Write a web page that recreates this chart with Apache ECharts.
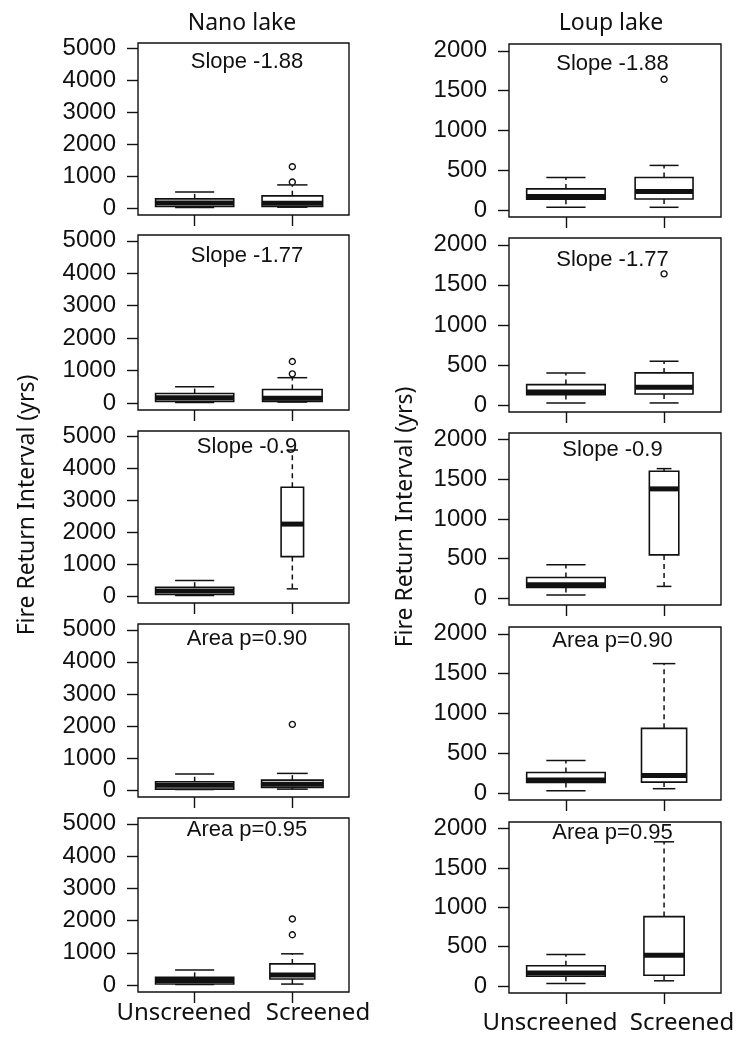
<!DOCTYPE html>
<html>
<head>
<meta charset="utf-8">
<script src="https://cdn.jsdelivr.net/npm/echarts@6/dist/echarts.min.js"></script>
<style>
html,body{margin:0;padding:0;background:#fff;}
#chart{width:739px;height:1040px;}
</style>
</head>
<body>
<div id="chart"></div>
<script>
// ---------- data ----------
const lakes = ['Nano lake', 'Loup lake'];
const categories = ['Unscreened', 'Screened'];
const panelLabels = ['Slope -1.88', 'Slope -1.77', 'Slope -0.9', 'Area p=0.90', 'Area p=0.95'];
const yTitle = 'Fire Return Interval (yrs)';
const nanoTicks = [0, 1000, 2000, 3000, 4000, 5000];
const loupTicks = [0, 500, 1000, 1500, 2000];

// [lower whisker, Q1, median, Q3, upper whisker]
const nanoUnscreened = [
  [20, 52, 160, 292, 510],
  [20, 52, 160, 292, 500],
  [20, 52, 160, 281, 490],
  [15, 31, 150, 260, 500],
  [15, 31, 140, 240, 469]
];
const nanoScreened = [
  [30, 52, 150, 385, 729],
  [30, 52, 150, 417, 781],
  [229, 1240, 2260, 3417, 4583],
  [30, 83, 185, 312, 521],
  [31, 188, 312, 656, 969]
];
const nanoOutliers = [[1300, 820], [1280, 900], [], [2050], [2050, 1560]];

const loupUnscreened = [
  [34, 135, 168, 265, 408],
  [25, 129, 163, 254, 400],
  [38, 134, 168, 260, 419],
  [29, 133, 163, 258, 408],
  [33, 125, 165, 258, 400]
];
const loupScreened = [
  [34, 139, 232, 408, 560],
  [25, 137, 220, 400, 546],
  [147, 545, 1379, 1602, 1635],
  [54, 137, 220, 812, 1625],
  [67, 137, 392, 883, 1833]
];
const loupOutliers = [[1642], [1637], [], [], []];

// relative box widths (varwidth)
const unscreenedWidth = 0.8;
const nanoScreenedWidth = [0.62, 0.61, 0.23, 0.63, 0.46];
const loupScreenedWidth = [0.59, 0.59, 0.30, 0.46, 0.41];

// ---------- layout ----------
const colLeft = [138, 509];
const colWidth = [211, 212];
const rowTop = [[43, 235, 431, 624, 818], [44, 238, 433, 627, 822]];
const rowHeight = [[172, 175, 172, 173, 174], [173, 174, 172, 173, 171]];
const yRange = [[-215, 5180], [-88, 2085]];
const labelOffset = [[19, 21, 16, 15, 12], [20, 21.5, 16.5, 14, 10.5]];
const labelX = [247, 612.5];

const INK = '#111';
const numFont = '"Liberation Sans", Arial, sans-serif';
const textFont = '"Noto Sans", "Open Sans", sans-serif';

const chart = echarts.init(document.getElementById('chart'), null, {renderer: 'canvas'});

const grids = [], xAxes = [], yAxes = [], series = [], graphics = [];

function renderBox(params, api) {
  const x = api.value(0);
  const lo = api.value(1), q1 = api.value(2), med = api.value(3), q3 = api.value(4), hi = api.value(5);
  const w = api.value(6);
  const c = (a, b) => api.coord([a, b]);
  const pTop = c(x, q3), pBot = c(x, q1), pHi = c(x, hi), pLo = c(x, lo);
  const left = c(x - w / 2, q3)[0], right = c(x + w / 2, q3)[0];
  const capL = c(x - w / 4, hi)[0], capR = c(x + w / 4, hi)[0];
  const dashed = {stroke: INK, lineWidth: 1.5, lineDash: [5, 4], fill: null};
  const solid = {stroke: INK, lineWidth: 1.5, fill: null};
  const medY = c(x, med)[1];
  return {
    type: 'group',
    children: [
      {type: 'line', shape: {x1: pTop[0], y1: pTop[1], x2: pHi[0], y2: pHi[1]}, style: dashed},
      {type: 'line', shape: {x1: pBot[0], y1: pBot[1], x2: pLo[0], y2: pLo[1]}, style: dashed},
      {type: 'line', shape: {x1: capL, y1: pHi[1], x2: capR, y2: pHi[1]}, style: solid},
      {type: 'line', shape: {x1: capL, y1: pLo[1], x2: capR, y2: pLo[1]}, style: solid},
      {type: 'rect', shape: {x: left, y: pTop[1], width: right - left, height: pBot[1] - pTop[1]},
        style: {fill: '#fff', stroke: INK, lineWidth: 1.6}},
      {type: 'line', shape: {x1: left, y1: medY, x2: right, y2: medY}, style: {stroke: INK, lineWidth: 5}}
    ]
  };
}

const lakeData = [
  {un: nanoUnscreened, sc: nanoScreened, out: nanoOutliers, scW: nanoScreenedWidth, ticks: nanoTicks},
  {un: loupUnscreened, sc: loupScreened, out: loupOutliers, scW: loupScreenedWidth, ticks: loupTicks}
];

let gi = 0;
for (let col = 0; col < 2; col++) {
  const L = lakeData[col];
  for (let row = 0; row < 5; row++) {
    grids.push({
      left: colLeft[col], top: rowTop[col][row], width: colWidth[col], height: rowHeight[col][row],
      show: true, borderColor: INK, borderWidth: 1.4, backgroundColor: 'transparent',
      containLabel: false, outerBoundsMode: 'none'
    });
    xAxes.push({
      type: 'value', gridIndex: gi, min: 0.42, max: 2.58, position: 'bottom',
      axisLine: {show: false, onZero: false},
      splitLine: {show: false},
      axisTick: {show: true, length: 11, inside: false, customValues: [1, 2], lineStyle: {color: INK, width: 1.4}},
      axisLabel: {show: false, customValues: [1, 2]}
    });
    yAxes.push({
      type: 'value', gridIndex: gi, min: yRange[col][0], max: yRange[col][1],
      axisLine: {show: false, onZero: false},
      splitLine: {show: false},
      axisTick: {show: true, length: 11, inside: false, customValues: L.ticks, lineStyle: {color: INK, width: 1.4}},
      axisLabel: {show: true, customValues: L.ticks, margin: 22, fontSize: 24, color: INK,
        fontFamily: numFont, formatter: v => String(v)}
    });
    const boxes = [
      [1].concat(L.un[row], [unscreenedWidth]),
      [2].concat(L.sc[row], [L.scW[row]])
    ];
    series.push({
      type: 'custom', xAxisIndex: gi, yAxisIndex: gi, renderItem: renderBox,
      data: boxes, encode: {x: 0, y: [1, 2, 3, 4, 5]}, silent: true, clip: false, z: 2
    });
    series.push({
      type: 'scatter', xAxisIndex: gi, yAxisIndex: gi, symbol: 'circle', symbolSize: 6,
      itemStyle: {color: '#fff', borderColor: INK, borderWidth: 1.4, opacity: 1},
      data: L.out[row].map(v => [2, v]), silent: true, z: 3
    });
    graphics.push({
      type: 'text', x: labelX[col], y: rowTop[col][row] + labelOffset[col][row], z: 10,
      style: {text: panelLabels[row], font: '22px ' + numFont, fill: INK,
        textAlign: 'center', textVerticalAlign: 'middle'}
    });
    gi++;
  }
}

// lake titles
graphics.push({type: 'text', x: 242, y: 23, style: {text: lakes[0], font: '23px ' + textFont, fill: INK, textAlign: 'center', textVerticalAlign: 'middle'}});
graphics.push({type: 'text', x: 611, y: 23, style: {text: lakes[1], font: '23px ' + textFont, fill: INK, textAlign: 'center', textVerticalAlign: 'middle'}});
// y titles
graphics.push({type: 'text', x: 27, y: 505, rotation: Math.PI / 2, style: {text: yTitle, font: '23px ' + textFont, fill: INK, textAlign: 'center', textVerticalAlign: 'middle'}});
graphics.push({type: 'text', x: 405, y: 517, rotation: Math.PI / 2, style: {text: yTitle, font: '23px ' + textFont, fill: INK, textAlign: 'center', textVerticalAlign: 'middle'}});
// category labels
graphics.push({type: 'text', x: 184, y: 1013, style: {text: categories[0], font: '24px ' + textFont, fill: INK, textAlign: 'center', textVerticalAlign: 'middle'}});
graphics.push({type: 'text', x: 318, y: 1013, style: {text: categories[1], font: '24px ' + textFont, fill: INK, textAlign: 'center', textVerticalAlign: 'middle'}});
graphics.push({type: 'text', x: 550, y: 1023, style: {text: categories[0], font: '24px ' + textFont, fill: INK, textAlign: 'center', textVerticalAlign: 'middle'}});
graphics.push({type: 'text', x: 682, y: 1023, style: {text: categories[1], font: '24px ' + textFont, fill: INK, textAlign: 'center', textVerticalAlign: 'middle'}});

chart.setOption({
  animation: false,
  backgroundColor: '#fff',
  grid: grids,
  xAxis: xAxes,
  yAxis: yAxes,
  series: series,
  graphic: graphics
});
</script>
</body>
</html>
